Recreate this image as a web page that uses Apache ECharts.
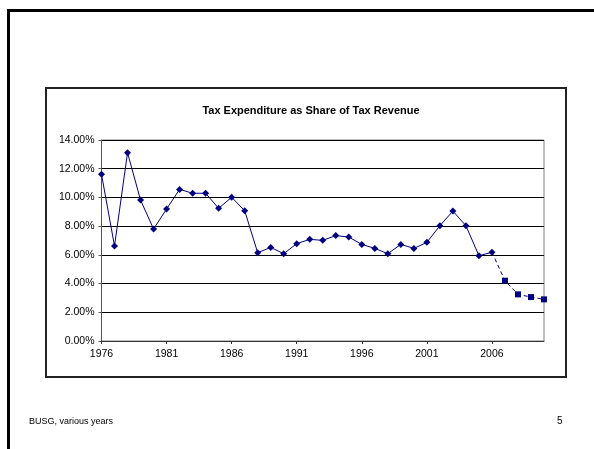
<!DOCTYPE html>
<html>
<head>
<meta charset="utf-8">
<script src="https://cdn.jsdelivr.net/npm/echarts@6/dist/echarts.min.js"></script>
<style>
html,body{margin:0;padding:0;background:#fff;}
#c{width:594px;height:449px;}
</style>
</head>
<body>
<div id="c"></div>
<script>
var years = [];
for (var y = 1976; y <= 2010; y++) years.push(String(y));
var actual = [11.61, 6.62, 13.11, 9.82, 7.80, 9.19, 10.56, 10.29, 10.29, 9.24,
              10.01, 9.08, 6.15, 6.52, 6.08, 6.78, 7.08, 7.01, 7.34, 7.24,
              6.73, 6.45, 6.08, 6.73, 6.45, 6.87, 8.03, 9.05, 8.03, 5.94, 6.18];
var projected = [6.18, 4.20, 3.25, 3.06, 2.90]; // 2006 - 2010
var titleText = 'Tax Expenditure as Share of Tax Revenue';
var sourceText = 'BUSG, various years';
var pageText = '5';

var s1 = years.map(function (d, i) { return i < actual.length ? actual[i] : null; });
var startP = actual.length - 1;
var s2 = years.map(function (d, i) {
  if (i < startP) return null;
  var v = projected[i - startP];
  if (i === startP) return { value: v, symbol: 'none' };
  return v;
});

var chart = echarts.init(document.getElementById('c'));
var font = 'Liberation Sans, Arial, sans-serif';
chart.setOption({
  animation: false,
  backgroundColor: '#fff',
  title: {
    text: titleText, left: 306, top: 100, textAlign: 'center',
    textStyle: { fontFamily: font, fontSize: 11, fontWeight: 'bold', color: '#000' }
  },
  grid: { left: 101.5, right: 50, top: 140, bottom: 108, show: true, borderColor: '#808080', borderWidth: 1 },
  xAxis: {
    type: 'category', data: years, boundaryGap: false,
    axisLine: { lineStyle: { color: '#333', width: 1 } },
    axisTick: { interval: 4, length: 3, lineStyle: { color: '#333' } },
    axisLabel: { interval: 4, fontFamily: font, fontSize: 10.5, color: '#000', margin: 8 },
    splitLine: { show: false }
  },
  yAxis: {
    type: 'value', min: 0, max: 14, interval: 2,
    axisLine: { show: true, lineStyle: { color: '#555', width: 1 } },
    axisTick: { show: true, length: 3, lineStyle: { color: '#555' } },
    axisLabel: { fontFamily: font, fontSize: 10.5, color: '#000', margin: 7,
      formatter: function (v) { return v.toFixed(2) + '%'; } },
    splitLine: { lineStyle: { color: '#000', width: 1 } }
  },
  series: [
    { type: 'line', data: s1, symbol: 'diamond', symbolSize: 7, connectNulls: false,
      lineStyle: { color: '#000080', width: 1 }, itemStyle: { color: '#000080' } },
    { type: 'line', data: s2, symbol: 'rect', symbolSize: 6,
      lineStyle: { color: '#000080', width: 1, type: [4, 3] }, itemStyle: { color: '#000080' } }
  ],
  graphic: [
    { type: 'polyline', shape: { points: [[8.5, 449], [8.5, 10.5], [594, 10.5]] },
      style: { stroke: '#000', lineWidth: 3, fill: null } },
    { type: 'rect', shape: { x: 46, y: 88, width: 520, height: 289 },
      style: { stroke: '#222', lineWidth: 2, fill: null } },
    { type: 'text', left: 29, top: 417,
      style: { text: sourceText, font: '9px ' + font, fill: '#000' } },
    { type: 'text', left: 557, top: 416,
      style: { text: pageText, font: '10px ' + font, fill: '#000' } }
  ]
});
</script>
</body>
</html>
